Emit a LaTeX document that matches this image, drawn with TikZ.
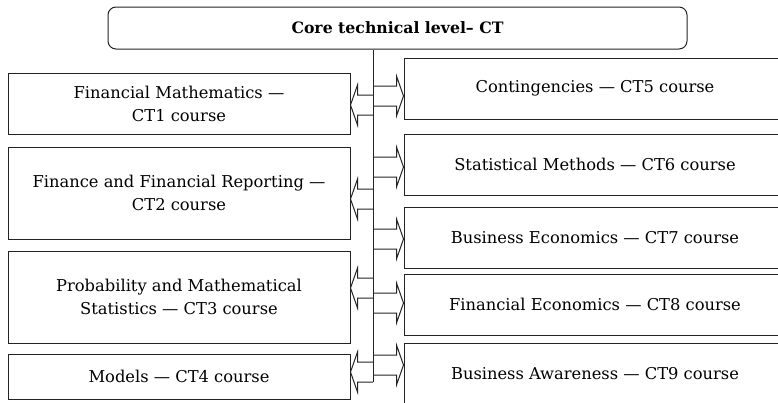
\documentclass[tikz,border=0pt]{standalone}
\usepackage{fontspec}
\setmainfont{DejaVu Serif}
\usetikzlibrary{calc}
\definecolor{linegray}{RGB}{35, 35, 35}

\newcommand{\ctarrow}[2]{%
    \draw[blockarrow] ($(#1)+(0,-10)$) -- ($(#2)!7pt!(#1)+(0,-10)$)
        -- ($(#2)!7pt!(#1)+(0,-20)$) -- (#2) -- ($(#2)!7pt!(#1)+(0,20)$)
        -- ($(#2)!7pt!(#1)+(0,10)$) -- ($(#1)+(0,10)$);}

\begin{document}
\begin{tikzpicture}[
        x=1pt, y=-1pt,
        every node/.style={font=\fontsize{16.3}{23}\selectfont, text=black},
        course/.style={draw=linegray, line width=1pt, align=center, inner sep=0pt},
        leftcourse/.style={course, minimum width=342},
        rightcourse/.style={course, minimum width=382, minimum height=61},
        level/.style={course, rounded corners=8pt, minimum width=579, minimum height=42,
            font=\fontsize{15.7}{23}\selectfont\bfseries},
        blockarrow/.style={draw=linegray, line width=1pt},
        trunk/.style={draw=linegray, line width=1pt}
    ]
    \useasboundingbox (0,0) rectangle (778,402);

    \node[level] (ct) at (397.5,28) {Core technical level-- CT};

    \node[leftcourse, minimum height=61] (ct1) at (179,103.5) {Financial Mathematics ---\\CT1 course};
    \node[leftcourse, minimum height=92] (ct2) at (179,193) {Finance and Financial Reporting ---\\CT2 course};
    \node[leftcourse, minimum height=92] (ct3) at (179,297) {Probability and Mathematical\\Statistics --- CT3 course};
    \node[leftcourse, minimum height=45] (ct4) at (179,376.5) {Models --- CT4 course};

    \node[rightcourse] (ct5) at (595,88.5) {Contingencies --- CT5 course};
    \node[rightcourse] (ct6) at (595,164.5) {Statistical Methods --- CT6 course};
    \node[rightcourse] (ct7) at (595,237.5) {Business Economics --- CT7 course};
    \node[rightcourse] (ct8) at (595,304.5) {Financial Economics --- CT8 course};
    \node[rightcourse, minimum height=62] (ct9) at (595,374) {Business Awareness --- CT9 course};

    \coordinate (trunkend) at (373,382);
    \draw[trunk] (ct.south -| trunkend) -- (trunkend);

    \foreach \n/\side/\y in {1/east/105,2/east/199,3/east/288,4/east/372,
                             5/west/96,6/west/167,7/west/239,8/west/303,9/west/365}{
        \coordinate (a\n) at (373,\y);
        \coordinate (p\n) at (ct\n.\side |- a\n);
        \ctarrow{a\n}{p\n}
    }
\end{tikzpicture}
\end{document}
